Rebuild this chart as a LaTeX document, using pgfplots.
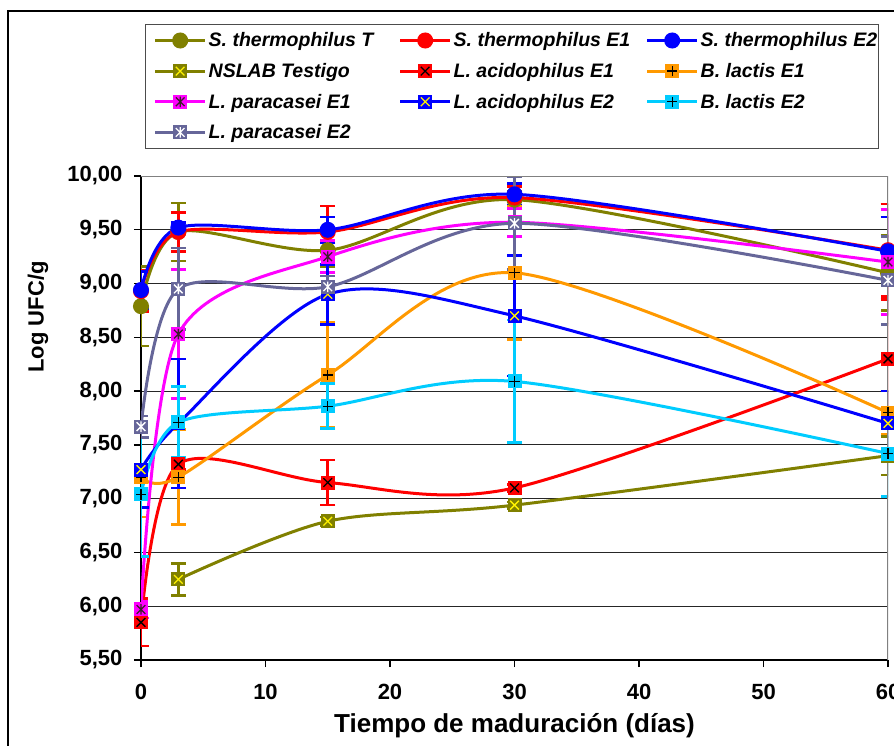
\documentclass[border=0pt]{standalone}
\usepackage{fontspec}
\setmainfont{Liberation Sans}
\usepackage{pgfplots}
\usepackage{pgfplotstable}
\pgfplotsset{compat=1.18}

\definecolor{olivec}{RGB}{128,128,0}
\definecolor{redc}{RGB}{255,0,0}
\definecolor{bluec}{RGB}{0,0,255}
\definecolor{orangec}{RGB}{255,153,0}
\definecolor{cyanc}{RGB}{0,204,255}
\definecolor{magc}{RGB}{255,0,255}
\definecolor{slatec}{RGB}{102,102,153}
\definecolor{starc}{RGB}{60,30,40}

\newcommand{\sqbase}{\pgfpathrectangle{\pgfqpoint{-\pgfplotmarksize}{-\pgfplotmarksize}}{\pgfqpoint{2\pgfplotmarksize}{2\pgfplotmarksize}}\pgfusepathqfill}
\newcommand{\xpath}{\pgfpathmoveto{\pgfqpoint{-.62\pgfplotmarksize}{-.62\pgfplotmarksize}}\pgfpathlineto{\pgfqpoint{.62\pgfplotmarksize}{.62\pgfplotmarksize}}\pgfpathmoveto{\pgfqpoint{-.62\pgfplotmarksize}{.62\pgfplotmarksize}}\pgfpathlineto{\pgfqpoint{.62\pgfplotmarksize}{-.62\pgfplotmarksize}}}
\newcommand{\hvpath}{\pgfpathmoveto{\pgfqpoint{-.75\pgfplotmarksize}{0pt}}\pgfpathlineto{\pgfqpoint{.75\pgfplotmarksize}{0pt}}\pgfpathmoveto{\pgfqpoint{0pt}{-.75\pgfplotmarksize}}\pgfpathlineto{\pgfqpoint{0pt}{.75\pgfplotmarksize}}}
\newcommand{\vpath}{\pgfpathmoveto{\pgfqpoint{0pt}{-.75\pgfplotmarksize}}\pgfpathlineto{\pgfqpoint{0pt}{.75\pgfplotmarksize}}}
\pgfdeclareplotmark{sqxyellow}{\sqbase\pgfsetstrokecolor{yellow}\pgfsetlinewidth{1.3pt}\xpath\pgfusepathqstroke}
\pgfdeclareplotmark{sqxblack}{\sqbase\pgfsetstrokecolor{black}\pgfsetlinewidth{1.3pt}\xpath\pgfusepathqstroke}
\pgfdeclareplotmark{sqplusblack}{\sqbase\pgfsetstrokecolor{black}\pgfsetlinewidth{1.3pt}\hvpath\pgfusepathqstroke}
\pgfdeclareplotmark{sqstardark}{\sqbase\pgfsetstrokecolor{starc}\pgfsetlinewidth{1.3pt}\xpath\vpath\pgfusepathqstroke}
\pgfdeclareplotmark{sqstarwhite}{\sqbase\pgfsetstrokecolor{white}\pgfsetlinewidth{1.3pt}\xpath\vpath\pgfusepathqstroke}

\pgfplotsset{
  eb/.style={error bars/.cd, y dir=both, y explicit,
     error bar style={line width=2.7pt, solid},
     error mark options={line width=2.7pt, mark size=7.5pt, rotate=90}},
}

% x  y  err
\pgfplotstableread{
x y e
0 8.79 0.37
3 9.48 0.27
15 9.31 0.15
30 9.78 0.08
60 9.10 0.35
}\stT
\pgfplotstableread{
x y e
0 8.93 0.19
3 9.48 0.18
15 9.48 0.24
30 9.80 0.10
60 9.31 0.43
}\stEa
\pgfplotstableread{
x y e
0 8.94 0.17
3 9.52 0.05
15 9.50 0.12
30 9.83 0.10
60 9.30 0.32
}\stEb
\pgfplotstableread{
x y e
3 6.25 0.15
15 6.79 0.04
30 6.94 0.03
60 7.40 0.18
}\nslab
\pgfplotstableread{
x y e
0 5.85 0.22
3 7.32 0.05
15 7.15 0.21
30 7.10 0.03
60 8.30 0.55
}\laEa
\pgfplotstableread{
x y e
0 7.20 0.37
3 7.20 0.44
15 8.15 0.49
30 9.10 0.62
60 7.80 0.20
}\blEa
\pgfplotstableread{
x y e
0 5.97 0.08
3 8.53 0.60
15 9.25 0.15
30 9.57 0.13
60 9.20 0.49
}\lpEa
\pgfplotstableread{
x y e
0 7.27 0.35
3 7.70 0.60
15 8.90 0.28
30 8.70 0.56
60 7.70 0.30
}\laEb
\pgfplotstableread{
x y e
0 7.04 0.58
3 7.71 0.33
15 7.86 0.21
30 8.09 0.57
60 7.42 0.40
}\blEb
\pgfplotstableread{
x y e
0 7.67 0.10
3 8.95 0.38
15 8.97 0.10
30 9.56 0.43
60 9.03 0.41
}\lpEb

\begin{document}
\begin{tikzpicture}
\useasboundingbox (0pt,0pt) rectangle (894pt,-745pt);
\draw[black, line width=1.3pt] (8pt,-11pt) rectangle (1000pt,-900pt);
\begin{axis}[
  scale only axis, width=747pt, height=484pt,
  at={(141pt,-660pt)}, anchor=south west,
  xmin=0, xmax=60, ymin=5.5, ymax=10,
  xtick={0,10,...,60}, ytick={5.5,6,...,10},
  axis x line*=bottom, axis y line*=left,
  axis line style={black, line width=1.3pt},
  tick align=outside, major tick length=7pt,
  tick style={black, line width=1.3pt},
  ymajorgrids, grid style={black!85, line width=1pt},
  /pgf/number format/assume math mode=true,
  ticklabel style={font=\bfseries\fontsize{22}{26}\selectfont},
  yticklabel style={xshift=-8pt, /pgf/number format/.cd, fixed, fixed zerofill, precision=2, use comma},
  xticklabel style={yshift=-14pt},
  xlabel={Tiempo de maduración (días)},
  ylabel={Log UFC/g},
  xlabel style={font=\bfseries\fontsize{26}{30}\selectfont, at={(axis description cs:0.5,-0.149)}, anchor=base},
  ylabel style={font=\bfseries\fontsize{22}{26}\selectfont, at={(axis description cs:-0.138,0.709)}, anchor=center},
  every axis plot/.append style={line width=3pt, smooth, tension=0.5},
  legend columns=3,
  legend cell align=left,
  legend image code/.code={\draw[mark repeat=2,mark phase=2] plot coordinates {(0pt,0pt) (25pt,0pt) (50pt,0pt)};},
  legend style={at={(axis description cs:0.0054,1.314)}, anchor=north west,
     draw=black!70, line width=1.3pt, fill=white,
     font=\bfseries\itshape\fontsize{19.5}{22}\selectfont,
     inner xsep=8pt, inner ysep=6pt, row sep=11pt},
]
\addplot[color=olivec, mark=*, mark size=6.5pt, eb] table[x=x,y=y,y error=e]{\stT};
\addlegendentry{\makebox[188pt][l]{S. thermophilus T}}
\addplot[color=redc, mark=*, mark size=6.5pt, eb] table[x=x,y=y,y error=e]{\stEa};
\addlegendentry{\makebox[190pt][l]{S. thermophilus E1}}
\addplot[color=bluec, mark=*, mark size=6.5pt, eb] table[x=x,y=y,y error=e]{\stEb};
\addlegendentry{\makebox[168pt][l]{S. thermophilus E2}}
\addplot[color=olivec, mark=sqxyellow, mark size=7pt, eb] table[x=x,y=y,y error=e]{\nslab};
\addlegendentry{\makebox[188pt][l]{NSLAB Testigo}}
\addplot[color=redc, mark=sqxblack, mark size=7pt, eb] table[x=x,y=y,y error=e]{\laEa};
\addlegendentry{\makebox[190pt][l]{L. acidophilus E1}}
\addplot[color=orangec, mark=sqplusblack, mark size=7pt, eb] table[x=x,y=y,y error=e]{\blEa};
\addlegendentry{\makebox[168pt][l]{B. lactis E1}}
\addplot[color=magc, mark=sqstardark, mark size=7pt, eb] table[x=x,y=y,y error=e]{\lpEa};
\addlegendentry{\makebox[188pt][l]{L. paracasei E1}}
\addplot[color=bluec, mark=sqxyellow, mark size=7pt, eb] table[x=x,y=y,y error=e]{\laEb};
\addlegendentry{\makebox[190pt][l]{L. acidophilus E2}}
\addplot[color=cyanc, mark=sqplusblack, mark size=7pt, eb] table[x=x,y=y,y error=e]{\blEb};
\addlegendentry{\makebox[168pt][l]{B. lactis E2}}
\addplot[color=slatec, mark=sqstarwhite, mark size=7pt, eb] table[x=x,y=y,y error=e]{\lpEb};
\addlegendentry{\makebox[188pt][l]{L. paracasei E2}}
\draw[gray, line width=1.3pt] (rel axis cs:0,1) -- (rel axis cs:1,1) -- (rel axis cs:1,0);
\end{axis}
\end{tikzpicture}
\end{document}
